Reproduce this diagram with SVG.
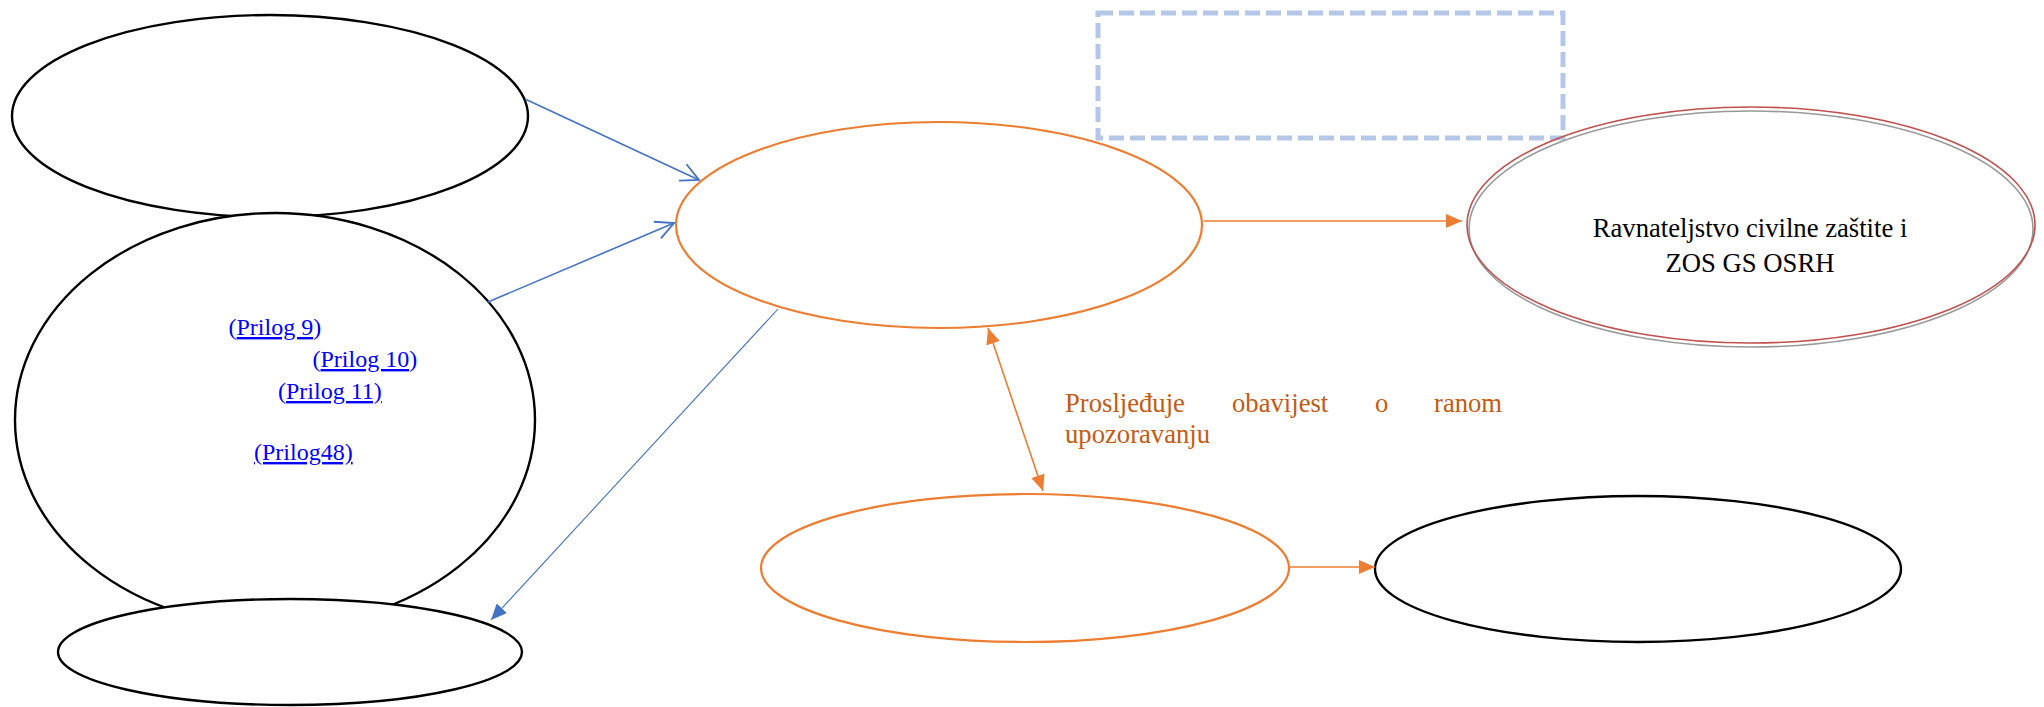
<svg xmlns="http://www.w3.org/2000/svg" width="2044" height="707" viewBox="0 0 2044 707">
<style>
.blk{fill:#fff;stroke:#000;stroke-width:2.4}
.org{fill:#fff;stroke:#ED7D31;stroke-width:2.2}
.lnk{font-family:"Liberation Serif","Times New Roman",serif;font-size:24px;fill:#0000FF}
.u{text-decoration:underline}
.t{font-family:"Liberation Serif","Times New Roman",serif;font-size:26.67px;fill:#000}
.lbl{font-family:"Liberation Serif","Times New Roman",serif;font-size:26.67px;fill:#C55A11}
.bl{stroke:#4472C4;stroke-width:1.6;fill:none}
.bl2{stroke:#4472C4;stroke-width:1.1;fill:none}
.or{stroke:#ED7D31;stroke-width:1.6;fill:none}
</style>
<defs>
<marker id="openB" markerUnits="userSpaceOnUse" markerWidth="22" markerHeight="22" viewBox="0 0 22 22" refX="20" refY="10" orient="auto">
<path d="M2,1 L20,10 L2,19" fill="none" stroke="#4472C4" stroke-width="1.8"/>
</marker>
<marker id="fillB" markerUnits="userSpaceOnUse" markerWidth="16" markerHeight="14" viewBox="0 0 16 14" refX="16" refY="7" orient="auto">
<path d="M0,0 L16,7 L0,14 Z" fill="#4472C4"/>
</marker>
<marker id="fillO" markerUnits="userSpaceOnUse" markerWidth="16" markerHeight="14" viewBox="0 0 16 14" refX="16" refY="7" orient="auto-start-reverse">
<path d="M0,0 L16,7 L0,14 Z" fill="#ED7D31"/>
</marker>
</defs>
<rect x="0" y="0" width="2044" height="707" fill="#fff"/>

<g id="group-box">
<rect x="1098" y="13" width="465" height="125" fill="none" stroke="#B4C7E7" stroke-width="5" stroke-dasharray="15,6"/>
</g>

<g id="node-top-left">
<ellipse class="blk" cx="270" cy="116" rx="258" ry="101"/>
</g>
<g id="node-prilog">
<ellipse class="blk" cx="275" cy="420" rx="260" ry="207"/>
<text class="lnk" x="228.5" y="335">(<tspan class="u">Prilog 9</tspan>)</text>
<text class="lnk" x="312.5" y="367">(<tspan class="u">Prilog 10</tspan>)</text>
<text class="lnk" x="278" y="399">(<tspan class="u">Prilog 11)</tspan></text>
<text class="lnk u" x="254" y="460">(Prilog48)</text>
</g>
<g id="node-bottom-left">
<ellipse class="blk" cx="290" cy="652" rx="232" ry="53"/>
</g>
<g id="node-center">
<ellipse class="org" cx="939" cy="225" rx="263" ry="103"/>
</g>
<g id="node-ravnateljstvo">
<ellipse cx="1751" cy="229" rx="282" ry="118" fill="#fff" stroke="#999" stroke-width="1.6"/>
<ellipse cx="1751" cy="225" rx="284" ry="118" fill="none" stroke="#C0504D" stroke-width="1.6"/>
<text class="t" x="1750" y="237" text-anchor="middle">Ravnateljstvo civilne zaštite i</text>
<text class="t" x="1750" y="272" text-anchor="middle">ZOS GS OSRH</text>
</g>
<g id="node-bottom-center">
<ellipse class="org" cx="1025" cy="568" rx="264" ry="74"/>
</g>
<g id="node-bottom-right">
<ellipse class="blk" cx="1638" cy="569" rx="263" ry="73"/>
</g>

<g id="connectors">
<line class="bl" x1="525" y1="99" x2="699" y2="180" marker-end="url(#openB)"/>
<line class="bl" x1="488" y1="302" x2="674" y2="223" marker-end="url(#openB)"/>
<line class="bl2" x1="778" y1="309" x2="491" y2="620" marker-end="url(#fillB)"/>
<line class="or" x1="1204" y1="221" x2="1462" y2="221" marker-end="url(#fillO)"/>
<line class="or" x1="988" y1="328" x2="1043" y2="491" marker-start="url(#fillO)" marker-end="url(#fillO)"/>
<line class="or" x1="1290" y1="567" x2="1375" y2="567" marker-end="url(#fillO)"/>
</g>

<g id="label">
<text class="lbl" y="412"><tspan x="1065">Prosljeđuje</tspan><tspan x="1232">obavijest</tspan><tspan x="1375">o</tspan><tspan x="1434">ranom</tspan></text>
<text class="lbl" x="1065" y="443">upozoravanju</text>
</g>
</svg>
